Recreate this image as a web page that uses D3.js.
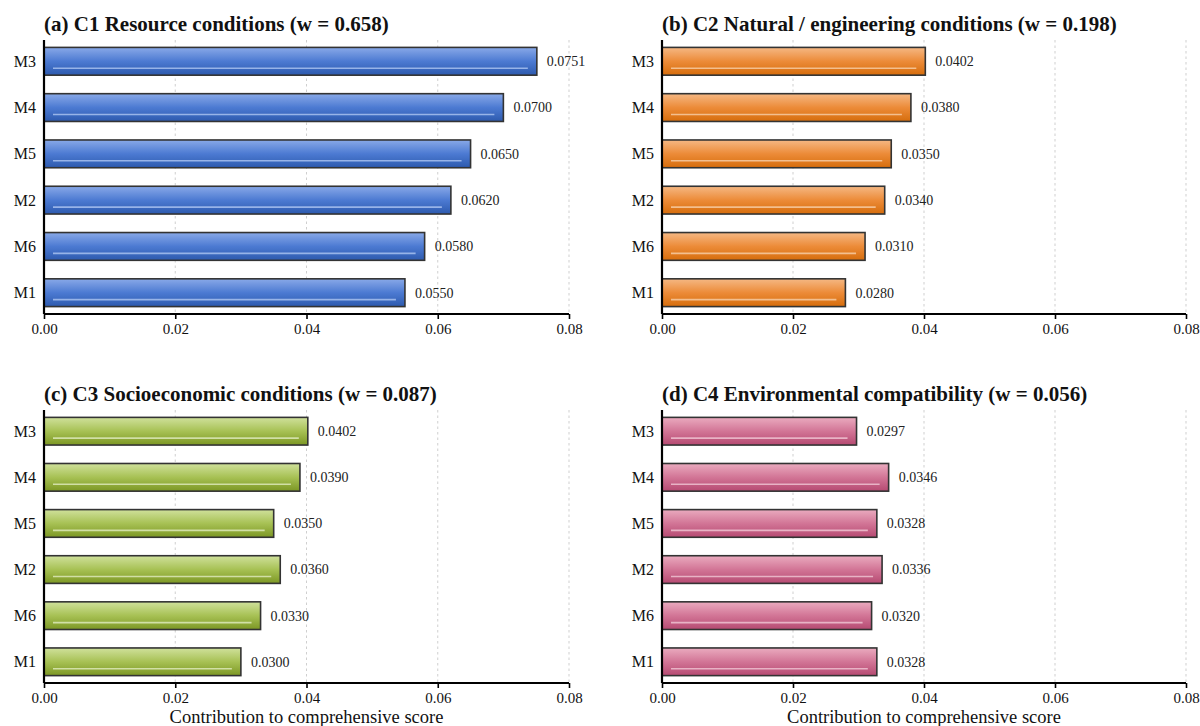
<!DOCTYPE html>
<html>
<head>
<meta charset="utf-8">
<script src="https://cdn.jsdelivr.net/npm/d3@7"></script>
<style>
  html, body { margin: 0; padding: 0; background: #fff; }
  svg { display: block; }
  text { font-family: "Liberation Serif", "Times New Roman", serif; fill: #111; }
</style>
</head>
<body>
<svg id="chart" width="1200" height="726"></svg>
<script>
"use strict";

// --- data ---
var categories = ["M3", "M4", "M5", "M2", "M6", "M1"];
var titles = [
    "(a) C1 Resource conditions (w = 0.658)",
    "(b) C2 Natural / engineering conditions (w = 0.198)",
    "(c) C3 Socioeconomic conditions (w = 0.087)",
    "(d) C4 Environmental compatibility (w = 0.056)"
];
var valuesC1 = [0.0751, 0.0700, 0.0650, 0.0620, 0.0580, 0.0550];
var valuesC2 = [0.0402, 0.0380, 0.0350, 0.0340, 0.0310, 0.0280];
var valuesC3 = [0.0402, 0.0390, 0.0350, 0.0360, 0.0330, 0.0300];
var valuesC4 = [0.0297, 0.0346, 0.0328, 0.0336, 0.0320, 0.0328];
var xTicks = [0, 0.02, 0.04, 0.06, 0.08];
var xLabel = "Contribution to comprehensive score";

// gradient stops per panel: [top, middle, bottom, highlight]
var palettes = [
    ["#89a9e8", "#4c7ad2", "#2d5aae", "#a8c1f0"],
    ["#f5b884", "#ec8b38", "#d66d0c", "#f7cba2"],
    ["#d0e19c", "#a7c154", "#7c9724", "#dde9b9"],
    ["#eaabbf", "#d27596", "#b64a72", "#efc2d1"]
];

var panels = [
    { title: titles[0], values: valuesC1, left: 44, right: 569, top: 40, bottom: 314, xlab: false },
    { title: titles[1], values: valuesC2, left: 662, right: 1186, top: 40, bottom: 314, xlab: false },
    { title: titles[2], values: valuesC3, left: 44, right: 569, top: 410, bottom: 683, xlab: true },
    { title: titles[3], values: valuesC4, left: 662, right: 1186, top: 410, bottom: 683, xlab: true }
];

var svg = d3.select("#chart");
var defs = svg.append("defs");

palettes.forEach(function (p, i) {
    var grad = defs.append("linearGradient")
        .attr("id", "grad" + i)
        .attr("x1", 0).attr("y1", 0).attr("x2", 0).attr("y2", 1);
    grad.append("stop").attr("offset", "0%").attr("stop-color", p[0]);
    grad.append("stop").attr("offset", "50%").attr("stop-color", p[1]);
    grad.append("stop").attr("offset", "100%").attr("stop-color", p[2]);
});

panels.forEach(function (pn, pi) {
    var x = d3.scaleLinear().domain([0, 0.08]).range([pn.left, pn.right]),
        y = d3.scalePoint().domain(categories).range([pn.top, pn.bottom]).padding(0.46),
        barH = y.step() * 0.6,
        g = svg.append("g").attr("class", "panel");

    // title
    g.append("text")
        .attr("x", pn.left)
        .attr("y", pn.top - 9.5)
        .attr("font-size", 21)
        .attr("font-weight", "bold")
        .text(pn.title);

    // grid
    g.selectAll("line.grid").data(xTicks.slice(1)).enter().append("line")
        .attr("class", "grid")
        .attr("x1", function (d) { return x(d); })
        .attr("x2", function (d) { return x(d); })
        .attr("y1", pn.top)
        .attr("y2", pn.bottom)
        .style("stroke", "#cfcfcf")
        .style("stroke-width", 1)
        .style("stroke-dasharray", "2.5,3");

    // bars
    var bars = g.selectAll("g.bar").data(pn.values).enter().append("g").attr("class", "bar");
    bars.append("rect")
        .attr("x", x(0))
        .attr("y", function (d, i) { return y(categories[i]) - barH / 2; })
        .attr("width", function (d) { return x(d) - x(0); })
        .attr("height", barH)
        .style("fill", "url(#grad" + pi + ")")
        .style("stroke", "#333")
        .style("stroke-width", 1.6);
    bars.append("line")
        .attr("x1", x(0) + 9)
        .attr("x2", function (d) { return x(d) - 9; })
        .attr("y1", function (d, i) { return y(categories[i]) + barH * 0.25; })
        .attr("y2", function (d, i) { return y(categories[i]) + barH * 0.25; })
        .style("stroke", palettes[pi][3])
        .style("stroke-width", 1.6)
        .style("opacity", 0.85);
    bars.append("text")
        .attr("x", function (d) { return x(d) + 10; })
        .attr("y", function (d, i) { return y(categories[i]); })
        .attr("dy", "0.35em")
        .attr("font-size", 14)
        .style("fill", "#222")
        .text(function (d) { return d.toFixed(4); });

    // category labels
    g.selectAll("text.cat").data(categories).enter().append("text")
        .attr("class", "cat")
        .attr("x", pn.left - 8)
        .attr("y", function (d) { return y(d); })
        .attr("dy", "0.35em")
        .attr("text-anchor", "end")
        .attr("font-size", 16)
        .text(function (d) { return d; });

    // x axis
    var axis = g.append("g")
        .attr("transform", "translate(0," + pn.bottom + ")")
        .call(d3.axisBottom(x).tickValues(xTicks).tickFormat(d3.format(".2f")).tickSize(5).tickPadding(4));
    axis.attr("font-family", "'Liberation Serif', 'Times New Roman', serif").attr("font-size", 15);
    axis.select(".domain").style("stroke", "#000").style("stroke-width", 2.2)
        .attr("d", "M" + x(0) + ",0H" + x(0.08));
    axis.selectAll(".tick line").style("stroke", "#000").style("stroke-width", 1.6);
    axis.selectAll(".tick text").style("fill", "#111");

    // left spine
    g.append("line")
        .attr("x1", pn.left).attr("x2", pn.left)
        .attr("y1", pn.top).attr("y2", pn.bottom)
        .style("stroke", "#000")
        .style("stroke-width", 2.2);

    if (pn.xlab) {
        g.append("text")
            .attr("x", (pn.left + pn.right) / 2)
            .attr("y", pn.bottom + 40)
            .attr("text-anchor", "middle")
            .attr("font-size", 18.5)
            .text(xLabel);
    }
});
</script>
</body>
</html>
